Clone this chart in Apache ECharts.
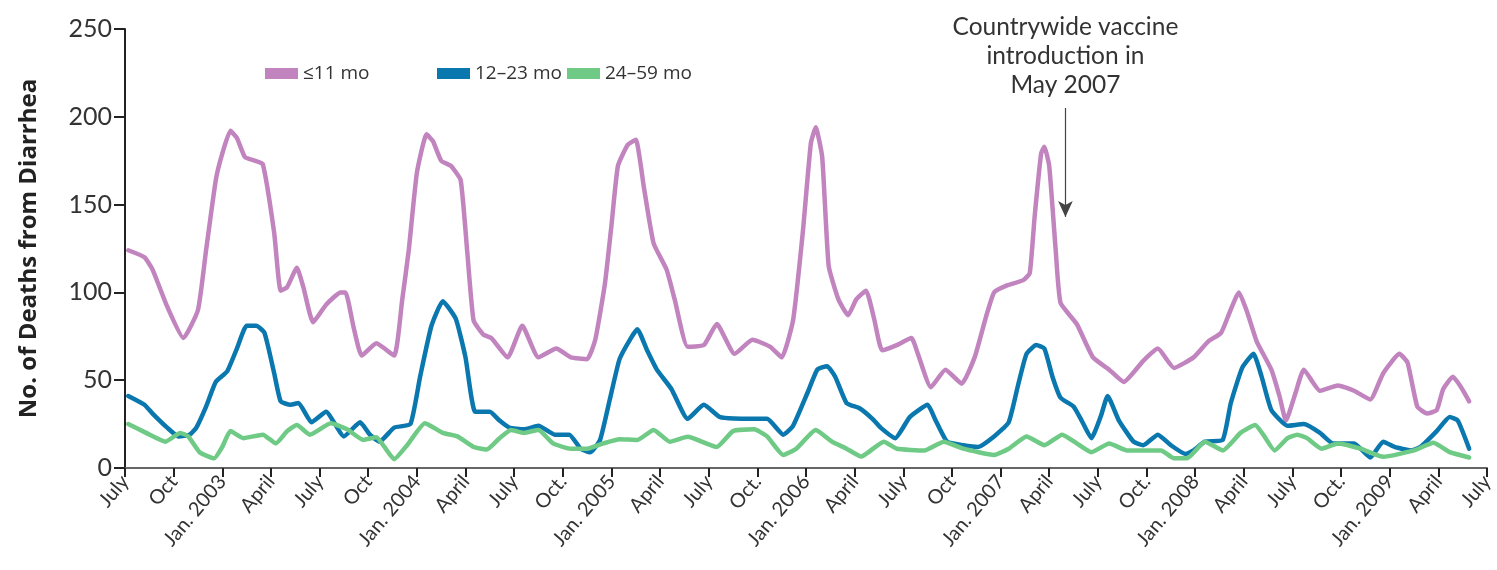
<!DOCTYPE html>
<html>
<head>
<meta charset="utf-8">
<script src="https://cdn.jsdelivr.net/npm/echarts@6/dist/echarts.min.js"></script>
<style>
  html, body { margin: 0; padding: 0; background: #fff; }
  #chart { width: 1497px; height: 570px; }
</style>
</head>
<body>
<div id="chart"></div>
<script>
// x = months since July 2002
const tickLabels = ['July','Oct','Jan. 2003','April','July','Oct','Jan. 2004','April','July','Oct.',
  'Jan. 2005','April','July','Oct.','Jan. 2006','April','July','Oct','Jan. 2007','April','July','Oct.',
  'Jan. 2008','April','July','Oct.','Jan. 2009','April','July'];

const seriesNames = ['\u226411 mo', '12\u201323 mo', '24\u201359 mo'];

const under11 = [[0.2,124],[1.2,120],[1.7,113],[2.6,92],[3.6,74],[4.5,90],[5.0,124],[5.6,164],[6.0,179],[6.5,192],
  [6.9,188],[7.4,177],[8.0,175],[8.5,173],[9.2,134],[9.6,101],[10.0,103],[10.6,114],[11.0,103],[11.6,83],
  [12.4,93],[13.3,100],[13.6,100],[14.1,80],[14.6,64],[15.5,71],[16.6,64],[17.1,96],[17.5,124],[18.0,168],
  [18.6,190],[19.0,186],[19.5,175],[20.1,172],[20.7,164],[21.1,124],[21.5,84],[22.1,76],[22.6,74],[23.6,63],
  [24.5,81],[25.5,63],[26.6,68],[27.5,63],[28.5,62],[29.0,73],[29.6,105],[30.0,138],[30.4,172],[31.0,184],
  [31.5,187],[32.0,160],[32.6,128],[33.4,113],[33.9,96],[34.7,69],[35.7,70],[36.5,82],[37.6,65],[38.7,73],
  [39.8,69],[40.5,63],[41.2,84],[41.8,134],[42.3,185],[42.6,194],[43.0,177],[43.4,115],[44.0,96],[44.6,87],
  [45.1,96],[45.7,101],[46.2,85],[46.7,67],[47.6,70],[48.5,74],[48.9,65],[49.7,46],[50.6,56],[51.6,48],
  [52.4,63],[53.1,86],[53.6,100],[54.4,104],[55.4,107],[55.8,111],[56.1,143],[56.5,179],[56.7,183],[57.0,172],
  [57.4,124],[57.7,94],[58.7,82],[59.7,63],[60.7,56],[61.6,49],[62.8,61],[63.7,68],[64.7,57],[65.9,63],
  [66.8,72],[67.6,77],[68.1,88],[68.7,100],[69.2,89],[69.8,72],[70.7,56],[71.2,41],[71.6,27],[72.2,43],
  [72.7,56],[73.7,44],[74.8,47],[75.8,44],[76.8,39],[77.6,54],[78.6,65],[79.1,60],[79.7,35],[80.3,31],
  [80.9,33],[81.3,45],[81.9,52],[82.4,46],[82.9,38]];

const m12to23 = [[0.2,41],[1.2,36],[1.7,31],[2.6,23],[3.3,18],[4.0,19],[4.4,23],[5.0,35],[5.6,49],[6.3,55],
  [6.9,68],[7.5,81],[8.1,81],[8.6,77],[9.2,54],[9.6,38],[10.2,36],[10.7,37],[11.5,26],[12.4,32],
  [13.5,18],[14.5,26],[15.1,19],[15.7,15],[16.6,23],[17.6,25],[18.2,52],[18.9,81],[19.6,95],[20.4,85],
  [21.0,63],[21.6,32],[22.5,32],[23.1,27],[23.7,23],[24.6,22],[25.5,24],[26.5,19],[27.4,19],[28.1,11],
  [28.7,9],[29.3,16],[29.9,39],[30.5,62],[31.2,74],[31.6,79],[32.2,67],[32.8,56],[33.7,45],[34.7,28],
  [35.7,36],[36.7,29],[38.4,28],[39.6,28],[40.6,19],[41.2,24],[42.1,43],[42.7,56],[43.3,58],[43.8,52],
  [44.5,37],[45.3,34],[46.1,28],[46.6,23],[47.5,17],[48.4,29],[49.5,36],[50.0,27],[50.7,15],[51.7,13],
  [52.6,12],[53.6,18],[54.5,26],[55.1,48],[55.6,65],[56.2,70],[56.7,68],[57.2,52],[57.7,40],[58.5,35],
  [59.0,27],[59.6,17],[60.2,30],[60.6,41],[61.3,27],[62.2,15],[62.8,13],[63.7,19],[64.5,13],[65.4,8],
  [65.9,10],[66.6,15],[67.7,16],[68.2,37],[68.9,57],[69.6,65],[70.1,52],[70.7,33],[71.7,24],[72.7,25],
  [73.7,20],[74.5,14],[75.8,14],[76.8,6],[77.6,15],[78.3,12],[79.3,10],[79.9,12],[80.9,21],[81.7,29],
  [82.2,27],[82.9,11]];

const m24to59 = [[0.2,25],[1.3,20],[2.5,15],[3.4,20],[3.9,18],[4.6,9],[5.5,5.5],[6.0,12],[6.5,21],[7.3,17],
  [8.5,19],[9.3,14],[10.0,21],[10.6,24.5],[11.4,19],[12.7,25.5],[13.7,22],[14.7,16],[15.5,17.5],[16.0,12],
  [16.6,5],[17.4,13],[18.5,25.5],[19.6,20],[20.5,18],[21.5,12],[22.3,10.5],[23.1,17],[23.8,21.7],[24.6,20],
  [25.5,21.7],[26.4,14],[27.5,11],[28.5,11],[29.5,14],[30.5,16.4],[31.6,16],[32.6,21.7],[33.6,15],[34.7,17.8],
  [36.5,12],[37.5,21],[38.8,22],[39.6,18],[40.6,7.4],[41.4,11],[42.6,21.7],[43.6,15],[44.5,11],[45.4,6.5],
  [46.8,15],[47.6,11],[49.3,10],[50.5,15],[51.7,11],[53.6,7.4],[54.5,11],[55.6,18],[56.7,13],[57.8,19],
  [58.7,14],[59.6,9],[60.7,14],[61.8,10],[63.0,10],[63.9,10],[64.7,5.5],[65.5,5.5],[66.6,15],[67.7,10],
  [68.8,20],[69.7,24.5],[70.2,19],[70.9,10],[71.7,17],[72.3,19],[72.9,17],[73.8,11],[74.8,14],[76.2,11],
  [77.6,6.4],[79.5,10],[80.7,14.4],[81.7,9],[82.9,6]];

// annotation: vaccine introduction, May 2007 = month 58
const vaccineMonth = 58;
const arrowFrom = 205, arrowTo = 143;
const annotationText = 'Countrywide vaccine\nintroduction in\nMay 2007';

const colors = ['#c184bf', '#0a78ae', '#6fca86'];
const FONT = 'Lato, "Open Sans", sans-serif';

const chart = echarts.init(document.getElementById('chart'), null, {renderer: 'canvas'});

function legendFor(i, left) {
  return {
    data: [{name: seriesNames[i], icon: 'rect'}],
    left: left, top: 64, padding: 0,
    itemWidth: 33, itemHeight: 11, itemGap: 0,
    textStyle: {fontFamily: '"Open Sans", Lato, sans-serif', fontSize: 19, color: '#333'},
    selectedMode: false
  };
}

const lineSeries = [under11, m12to23, m24to59].map((d, i) => ({
  name: seriesNames[i],
  type: 'line',
  data: d,
  showSymbol: false,
  symbol: 'none',
  smooth: 0.15,
  lineStyle: {width: 4.5, color: colors[i], cap: 'round', join: 'round'},
  itemStyle: {color: colors[i]},
  z: 2 + i,
  animation: false
}));

lineSeries[0].markLine = {
  silent: true,
  symbol: ['none', 'arrow'],
  symbolSize: [11, 16],
  lineStyle: {color: '#444', width: 1.2, type: 'solid'},
  label: {
    show: true, position: 'start', distance: 8,
    formatter: annotationText,
    fontFamily: FONT, fontSize: 24.5, lineHeight: 29, color: '#333', align: 'center'
  },
  data: [[{coord: [vaccineMonth, arrowFrom]}, {coord: [vaccineMonth, arrowTo]}]],
  animation: false
};

chart.setOption({
  animation: false,
  backgroundColor: '#fff',
  grid: {left: 125, right: 10, top: 29, bottom: 102, containLabel: false},
  legend: [legendFor(0, 265), legendFor(1, 437), legendFor(2, 567)],
  xAxis: {
    type: 'value', min: 0, max: 84, interval: 3,
    axisLine: {show: true, onZero: false, lineStyle: {color: '#666', width: 2}},
    axisTick: {show: true, length: 9, lineStyle: {color: '#222', width: 2}},
    splitLine: {show: false},
    axisLabel: {
      rotate: 50, margin: 10, fontFamily: FONT, fontSize: 20, color: '#333',
      formatter: v => tickLabels[Math.round(v / 3)] || ''
    }
  },
  yAxis: {
    type: 'value', min: 0, max: 250, interval: 50,
    name: 'No. of Deaths from Diarrhea', nameLocation: 'middle', nameGap: 84,
    nameTextStyle: {fontFamily: '"Open Sans", Lato, sans-serif', fontSize: 24, fontWeight: 'bold', color: '#222'},
    axisLine: {show: true, lineStyle: {color: '#222', width: 2}},
    axisTick: {show: true, length: 11, lineStyle: {color: '#222', width: 2}},
    splitLine: {show: false},
    axisLabel: {margin: 13, fontFamily: FONT, fontSize: 25, color: '#333'}
  },
  series: lineSeries
});
</script>
</body>
</html>
